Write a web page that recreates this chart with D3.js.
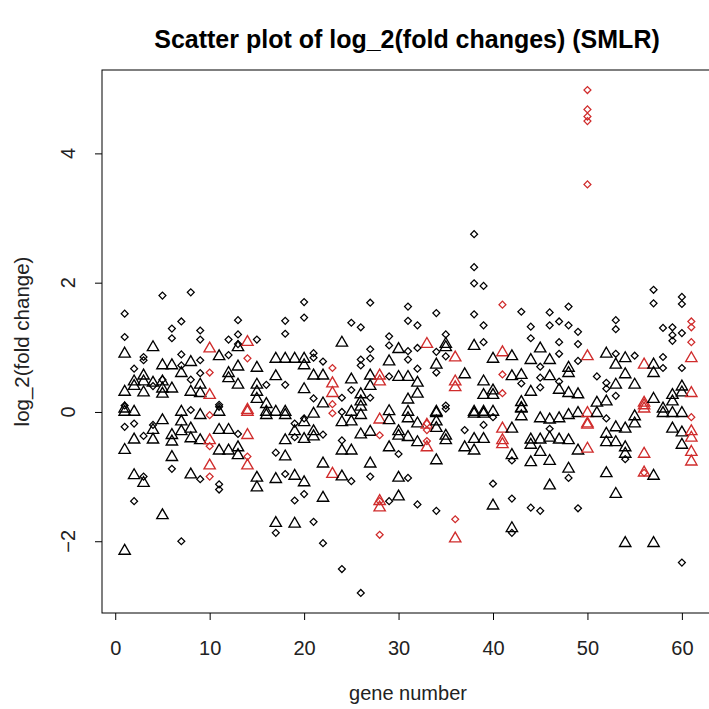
<!DOCTYPE html>
<html><head><meta charset="utf-8">
<script src="https://cdn.jsdelivr.net/npm/d3@7"></script>
<style>body{margin:0;background:#fff}svg{display:block}</style>
</head><body><svg id="c" width="709" height="709"></svg>
<script>
const title = "Scatter plot of log_2(fold changes) (SMLR)";
const xLabel = "gene number";
const yLabel = "log_2(fold change)";
const xTicks = [0, 10, 20, 30, 40, 50, 60];
const yTicks = [-2, 0, 2, 4];
const redGenes = [10, 14, 23, 28, 33, 36, 41, 50, 56, 61];

// one list per gene (gene 1..61)
const triangleValues = [
  [0.9, 0.31, 0.05, 0.0, -0.59, -2.15],
  [0.47, 0.4, 0.0, -0.43, -0.98],
  [0.56, 0.47, 0.3, -1.1],
  [1.0, 0.45, -0.28, -0.43],
  [0.72, 0.47, 0.36, 0.28, -0.13, -1.6],
  [0.72, 0.36, -0.36, -0.46, -0.7],
  [0.6, 0.0, -0.15, -0.3],
  [0.77, 0.31, -0.26, -0.41, -0.97],
  [0.42, 0.29, -0.05, -0.44],
  [0.98, 0.26, -0.44, -0.83],
  [0.86, 0.0, -0.28, -0.6],
  [0.6, 0.52, -0.28, -0.6],
  [1.0, 0.7, 0.42, -0.55, -0.67],
  [1.08, 0.03, 0.0, -0.36, -0.83],
  [0.68, 0.42, 0.31, 0.2, -1.02, -1.17],
  [0.12, 0.0, -0.05],
  [0.82, 0.55, 0.0, -1.04, -1.72],
  [0.82, 0.0, -0.05, -0.44, -0.69],
  [0.82, -0.3, -0.99, -1.73],
  [0.82, 0.72, 0.35, -0.16, -0.42, -1.09],
  [0.56, -0.03, -0.3, -0.38],
  [0.56, 0.13, -0.8, -1.33],
  [0.44, 0.29, -0.96],
  [1.07, -0.16, -0.6, -1.0],
  [0.5, 0.0, -0.15, -0.6],
  [0.27, 0.16, 0.08, -0.05, -0.35],
  [0.56, 0.4, -0.31, -0.8],
  [0.56, 0.47, -0.12, -1.38, -1.48],
  [0.78, 0.01, -0.13, -0.55],
  [0.97, 0.54, -0.3, -0.37, -1.02, -1.31],
  [0.54, 0.19, 0.0, -0.1, -0.39],
  [0.45, 0.28, -0.18, -0.47],
  [1.05, -0.2, -0.55],
  [0.73, 0.0, -0.02, -0.15, -0.25, -0.75],
  [1.05, 1.0, -0.37, -0.44],
  [0.84, 0.47, 0.38, -1.96],
  [0.58, -0.55],
  [1.02, 0.0, -0.03, -0.42, -0.6],
  [0.47, 0.26, 0.0, -0.03, -0.42],
  [0.82, 0.33, 0.26, 0.0, -1.45],
  [0.92, -0.26, -0.44, -0.5],
  [0.86, 0.55, -0.26, -0.67, -1.8],
  [0.57, 0.15, 0.06, 0.05, -0.07],
  [0.8, 0.31, -0.43, -0.51, -0.78],
  [0.98, -0.1, -0.43, -0.62],
  [0.8, 0.55, -0.12, -0.4, -0.76, -1.14],
  [0.34, -0.1, -0.43],
  [0.68, 0.6, 0.29, -0.05, -0.44, -0.88],
  [0.27, -0.02, -0.6],
  [0.86, -0.02, -0.18, -0.2, -0.57],
  [0.14, -0.02],
  [0.9, 0.16, -0.34, -0.47, -0.95],
  [0.73, 0.42, -0.24, -0.47, -1.27],
  [0.83, 0.58, -0.26, -0.55, -0.65, -2.03],
  [0.42, -0.07, -0.18],
  [0.73, 0.14, 0.1, 0.05, -0.65, -0.94],
  [0.73, 0.6, 0.2, -0.99, -2.03],
  [0.05, -0.02],
  [0.26, 0.16, -0.02, -0.26],
  [0.39, 0.3, -0.02, -0.32, -0.51],
  [0.83, 0.29, -0.3, -0.4, -0.62, -0.77]
];
const diamondValues = [
  [1.52, 1.16, 0.1, -0.23],
  [0.67, -0.18, -1.38],
  [0.85, 0.8, -0.37, -1.0],
  [0.4, -0.2],
  [1.8, 0.5],
  [1.29, 1.14, -0.88],
  [1.4, 0.89, 0.72, -2.0],
  [1.85, 0.5, 0.03],
  [1.26, 1.12, 0.8, 0.6, -1.04],
  [0.61, -0.05, -0.53, -1.0],
  [0.11, 0.08, -1.12, -1.2],
  [1.12, 0.88],
  [1.42, 1.2, 1.05, -0.34],
  [0.83, -0.69],
  [1.12],
  [0.42],
  [-0.63, -1.87],
  [1.41, 1.21, 0.42, -0.96],
  [-0.18, -0.39, -1.37],
  [1.7, 1.46, -0.1, -1.27],
  [0.91, 0.84, 0.21, -1.7],
  [0.78, -0.35, -2.03],
  [0.68, 0.12, -0.02],
  [0.22, 0.0, -0.44, -2.43],
  [1.38, 0.34, -1.07],
  [1.31, 0.81, 0.72, -2.8],
  [1.69, 0.97, 0.83, 0.22, -1.0],
  [-0.36, -1.38, -1.9],
  [1.17, 1.03, 0.55, -1.38],
  [-0.65],
  [1.63, 1.41, 0.94, 0.81, -1.02],
  [1.34, 0.99, 0.67, -1.43],
  [-0.18, -0.28, -0.45],
  [1.53, 0.93, 0.61, -1.53],
  [1.2, 0.86, 0.1, 0.05],
  [-1.66],
  [-0.28],
  [2.75, 2.24, 1.99, 1.51],
  [1.95, 1.34, 1.08, -0.2],
  [-0.08, -1.11],
  [1.66, 0.58, 0.29],
  [-0.75, -1.34, -1.87],
  [1.55, 0.44],
  [1.32, 1.14, -1.48],
  [0.7, 0.53, 0.38, -1.53],
  [1.54, 1.34, -0.26],
  [1.4, 1.08, 0.9, 0.47],
  [1.63, 1.34, -1.02],
  [1.24, 1.05, 0.79, -1.49],
  [4.98, 4.68, 4.57, 4.5, 3.52],
  [0.55],
  [0.45, 0.36, -0.1],
  [1.42, 1.28, 0.9, 0.25],
  [-0.73],
  [0.87],
  [-0.94],
  [1.89, 1.68],
  [1.3, 0.85, 0.68],
  [1.31, 1.19, 1.1],
  [1.78, 1.67, 1.22, 0.68, -2.33],
  [1.4, 1.31, 1.08, -0.08]
];

const RED = "#d02c2c";
const svg = d3.select("#c");
const x = d3.scaleLinear().domain([-1.4, 63.4]).range([102, 714]);
const y = d3.scaleLinear().domain([-3.11, 5.29]).range([613, 70]);

const tri = [], dia = [];
triangleValues.forEach((vals, i) => vals.forEach(v => tri.push({g: i + 1, v})));
diamondValues.forEach((vals, i) => vals.forEach(v => dia.push({g: i + 1, v})));
const col = d => redGenes.includes(d.g) ? RED : "#000";

const plot = svg.append("g");
plot.selectAll("path.tri").data(tri).join("path")
  .attr("class", "tri")
  .attr("d", d3.symbol(d3.symbolTriangle, 56))
  .attr("transform", d => `translate(${x(d.g)},${y(d.v)})`)
  .attr("fill", "none").attr("stroke", col).attr("stroke-width", 1.35);
plot.selectAll("path.dia").data(dia).join("path")
  .attr("class", "dia")
  .attr("d", d3.symbol(d3.symbolSquare, 24))
  .attr("transform", d => `translate(${x(d.g)},${y(d.v)}) rotate(45)`)
  .attr("fill", "none").attr("stroke", col).attr("stroke-width", 1.25);

// box
svg.append("rect").attr("x", 102).attr("y", 70).attr("width", 612).attr("height", 543)
  .attr("fill", "none").attr("stroke", "#000").attr("stroke-width", 1);

const font = "'Liberation Sans', Arial, sans-serif";
const xAxis = svg.append("g").attr("transform", "translate(0,613)")
  .call(d3.axisBottom(x).tickValues(xTicks).tickSize(7).tickPadding(21).tickFormat(d3.format("d")));
xAxis.select(".domain").remove();
xAxis.selectAll("text").attr("font-size", 20).attr("font-family", font).attr("fill", "#222");

const yAxis = svg.append("g").attr("transform", "translate(102,0)")
  .call(d3.axisLeft(y).tickValues(yTicks).tickSize(7).tickFormat(""));
yAxis.select(".domain").remove();
svg.append("g").selectAll("text").data(yTicks).join("text")
  .attr("transform", d => `translate(75,${y(d)}) rotate(-90)`)
  .attr("text-anchor", "middle").attr("font-size", 20).attr("font-family", font).attr("fill", "#222")
  .text(d => d3.format("d")(d));

svg.append("text").attr("x", 407).attr("y", 48).attr("text-anchor", "middle")
  .attr("font-size", 25).attr("font-weight", "bold").attr("font-family", font).text(title);
svg.append("text").attr("x", 408).attr("y", 700).attr("text-anchor", "middle")
  .attr("font-size", 20).attr("font-family", font).attr("fill", "#222").text(xLabel);
svg.append("text").attr("transform", `translate(29,${(70 + 613) / 2}) rotate(-90)`).attr("text-anchor", "middle")
  .attr("font-size", 20.5).attr("font-family", font).attr("fill", "#222").text(yLabel);
</script></body></html>
